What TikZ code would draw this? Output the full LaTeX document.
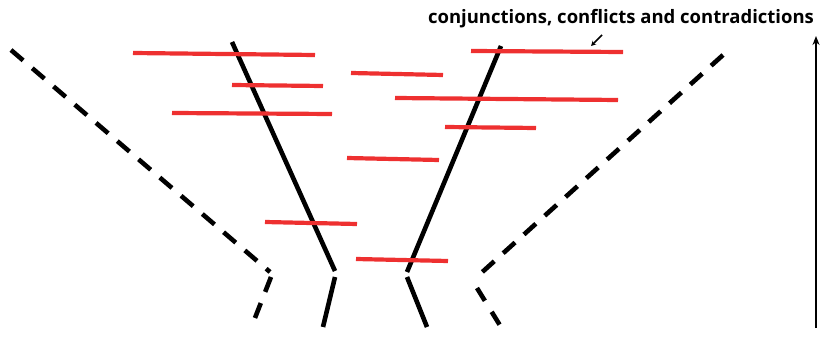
\documentclass[tikz,border=0pt]{standalone}
\usepackage{fontspec}
\setmainfont{Open Sans}
\usetikzlibrary{arrows.meta}
\definecolor{rl}{RGB}{238,48,48}
\begin{document}
\begin{tikzpicture}[x=1pt,y=-1pt,
  redline/.style={draw=rl,line width=4.2pt},
  solidline/.style={draw=black,line width=4.6pt},
  dashline/.style={draw=black,line width=4.6pt,dash pattern=on 16pt off 12pt},
  lbl/.style={font=\bfseries\fontsize{18.5}{22}\selectfont,inner sep=0pt,anchor=base}]
\useasboundingbox (0,0) rectangle (821,352);
% dashed boundaries
\draw[dashline] (11,50) -- (270,272);
\draw[dashline] (271,277) -- (253,323);
\draw[dashline] (723,55) -- (479,275);
\draw[dashline,dash pattern=on 15pt off 13pt] (477,288) -- (501,327);
% solid lines
\draw[solidline] (232,42) -- (335,271);
\draw[solidline] (335,277) -- (323,327);
\draw[solidline] (501,46) -- (407,272);
\draw[solidline] (407,277) -- (427,327);
% red lines
\draw[redline] (133,53) -- (315,55);
\draw[redline] (232,85) -- (323,86);
\draw[redline] (172,113) -- (332,114);
\draw[redline] (351,73) -- (443,75);
\draw[redline] (395,98) -- (618,100);
\draw[redline] (445,127) -- (536,128);
\draw[redline] (347,158) -- (439,160);
\draw[redline] (265,222) -- (357,224);
\draw[redline] (356,259) -- (448,261);
\draw[redline] (471,51) -- (623,52);
% label and arrows
\node[lbl] (lab) at (621,24) {conjunctions, conflicts and contradictions};
\coordinate (a1) at (602,35);
\coordinate (a2) at (591,46);
\draw[line width=1.6pt,-{Stealth[length=5pt,width=5pt]}] (a1) -- (a2);
\coordinate (v1) at (816,328);
\coordinate (v2) at (816,36);
\draw[line width=2.4pt,-{Stealth[length=9pt,width=7pt]}] (v1) -- (v2);
\end{tikzpicture}
\end{document}
